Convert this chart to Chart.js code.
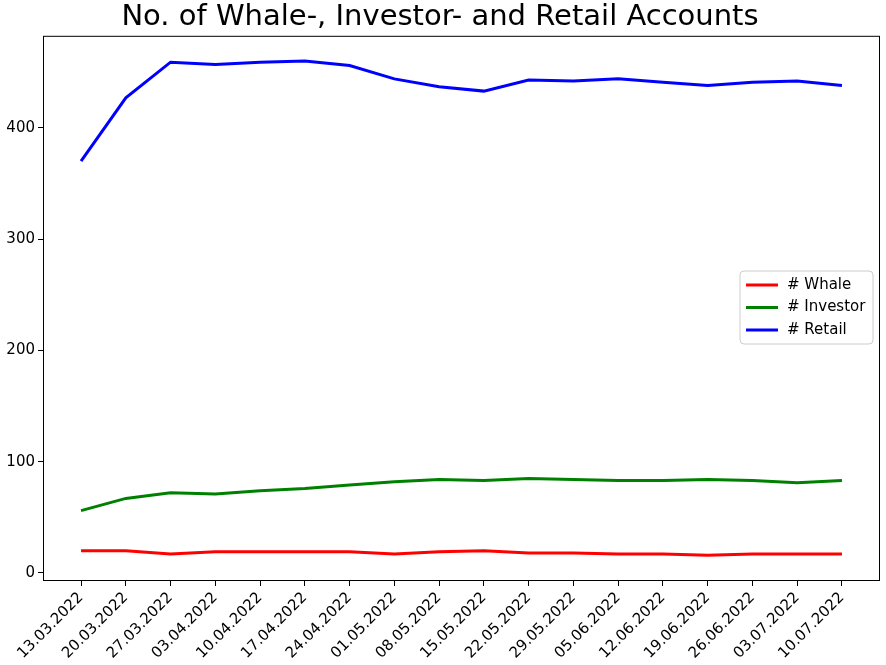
<!DOCTYPE html>
<html><head><meta charset="utf-8">
<script src="https://cdn.jsdelivr.net/npm/chart.js@4/dist/chart.umd.min.js"></script>
<style>html,body{margin:0;padding:0;background:#fff}#w{width:886px;height:665px}</style>
</head><body><div id="w"><canvas id="c"></canvas></div>
<script>
const categories=["13.03.2022","20.03.2022","27.03.2022","03.04.2022","10.04.2022","17.04.2022","24.04.2022","01.05.2022","08.05.2022","15.05.2022","22.05.2022","29.05.2022","05.06.2022","12.06.2022","19.06.2022","26.06.2022","03.07.2022","10.07.2022"];
const whale=[20,20,17,19,19,19,19,17,19,20,18,18,17,17,16,17,17,17];
const investor=[56,67,72,71,74,76,79,82,84,83,85,84,83,83,84,83,81,83];
const retail=[370,427,459,457,459,460,456,444,437,433,443,442,444,441,438,441,442,438];
const yTicks=[0,100,200,300,400];
const F="'DejaVu Sans', sans-serif";
const mk=(arr)=>arr.map((v,i)=>({x:i,y:v}));
const series=[["# Whale",whale,"#ff0000"],["# Investor",investor,"#008000"],["# Retail",retail,"#0000ff"]];
const legendPlugin={id:'lg',afterDraw(ch){
 const c=ch.ctx,a=ch.chartArea;c.save();
 c.strokeStyle='#000';c.lineWidth=1;c.strokeRect(a.left+0.5,a.top+0.5,a.right-a.left-1,a.bottom-a.top-1);
 const x=740,y=271,w=133,h=73;
 c.fillStyle='rgba(255,255,255,0.8)';c.strokeStyle='#ccc';
 c.beginPath();c.roundRect(x,y,w,h,4);c.fill();c.stroke();
 c.font='15px '+F;c.textBaseline='middle';
 series.forEach((s,i)=>{const yy=y+14+i*22.5;c.strokeStyle=s[2];c.lineWidth=3;c.beginPath();c.moveTo(x+6,yy);c.lineTo(x+38,yy);c.stroke();c.fillStyle='#000';c.fillText(s[0],x+47,yy);});
 c.restore();}};
new Chart(document.getElementById('c'),{type:'line',
data:{datasets:series.map(s=>({label:s[0],data:mk(s[1]),borderColor:s[2],backgroundColor:s[2],borderWidth:3,pointRadius:0,tension:0}))},
options:{responsive:true,maintainAspectRatio:false,animation:false,
layout:{padding:{left:0,right:6,top:0,bottom:0}},
plugins:{legend:{display:false},tooltip:{enabled:false},
title:{display:true,text:"No. of Whale-, Investor- and Retail Accounts",color:'#000',font:{family:F,size:29,weight:'normal',lineHeight:1.2},padding:{top:0,bottom:1}}},
scales:{
x:{type:'linear',min:-0.85,max:17.85,
 afterBuildTicks(s){s.ticks=categories.map((_,i)=>({value:i}));},
 afterFit(s){s.height=84;},
 grid:{drawOnChartArea:false,tickLength:5,color:'#000'},border:{display:false},
 ticks:{autoSkip:false,maxRotation:45,minRotation:45,color:'#000',font:{family:F,size:15},callback:(v)=>categories[v]}},
y:{min:-7.2,max:482.7,
 afterBuildTicks(s){s.ticks=yTicks.map(v=>({value:v}));},
 afterFit(s){s.width=43;},
 grid:{drawOnChartArea:false,tickLength:5,color:'#000'},border:{display:false},
 ticks:{color:'#000',font:{family:F,size:15}}}}},
plugins:[legendPlugin]});
</script></body></html>
